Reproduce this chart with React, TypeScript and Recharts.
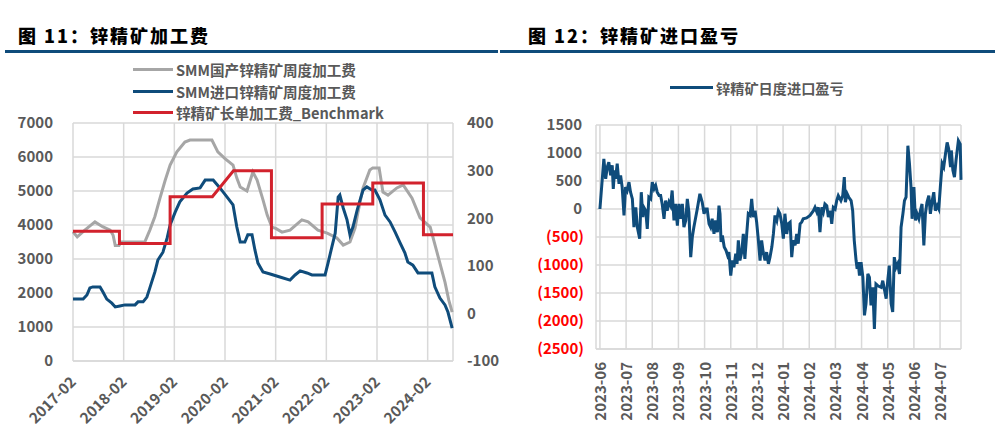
import React from "react"
import { LineChart, Line, XAxis, YAxis, CartesianGrid, Legend } from "recharts"

const FONT = '"Noto Sans CJK SC", "Noto Sans", sans-serif'
const BLUE = "#0f4c7b"
const GRAY = "#a6a6a6"
const RED = "#d2222d"
const GRID = "#d9d9d9"
const LABEL = "#595959"

// left chart: x = months since 2017-02
const feeTickLabels = ["2017-02", "2018-02", "2019-02", "2020-02", "2021-02", "2022-02", "2023-02", "2024-02"]
const feeTicks = [0, 12, 24, 36, 48, 60, 72, 84]

const domesticMonths = [
  0, 1, 2.8, 5.2, 7, 8.8, 9.5, 10, 10.9, 11.4,
  17, 18.2, 19.4, 20.6, 21.8, 23, 24.6, 26.5, 27.7, 32.9,
  34.3, 36, 37.9, 38.8, 39.6, 41.2, 42.6, 43.6, 45, 46,
  47.1, 48, 49.5, 51.4, 54.2, 55.7, 58, 60.2, 62.5, 64,
  65.6, 66.8, 67.5, 68.7, 70.3, 71, 72.5, 73.4, 74.6, 76.7,
  78.2, 80.3, 82.2, 84.6, 86.2, 88.1, 89, 89.8,
]
const domesticTc = [
  3800, 3650, 3850, 4090, 3950, 3850, 3700, 3400, 3400, 3500,
  3500, 3850, 4250, 4790, 5300, 5760, 6150, 6440, 6500, 6500,
  6150, 5950, 5760, 5380, 5120, 5000, 5560, 5320, 4740, 4290,
  3940, 3900, 3790, 3850, 4150, 4090, 3850, 3760, 3620, 3410,
  3500, 3910, 4380, 5090, 5620, 5680, 5680, 4970, 4880, 5090,
  5180, 4790, 4210, 3940, 3200, 2320, 1790, 1440,
]

const importMonths = [
  0, 2.4, 3.3, 4, 4.7, 6.4, 7.1, 8, 9.2, 10,
  11.1, 12.3, 14.7, 15.4, 16.6, 17.5, 18.2, 19.4, 20.1, 21.3,
  22.3, 23, 24.2, 25.3, 27, 28.4, 30.1, 31.3, 33.2, 34.8,
  36.5, 37.9, 38.8, 39.6, 40.7, 41.4, 42.4, 43.1, 43.8, 45,
  46.7, 49, 51.4, 52.6, 53.8, 55.4, 56.6, 59.7, 60.4, 61.3,
  62.1, 62.8, 63.2, 64, 64.9, 65.6, 66.3, 67.3, 68, 68.7,
  69.6, 70.8, 71.5, 72.7, 73.9, 75.1, 76.3, 77.5, 78.6, 79.3,
  80.5, 81.7, 82.9, 85, 85.7, 86.9, 88.1, 88.8, 89.8,
]
const importTc = [
  1820, 1820, 1940, 2150, 2180, 2180, 2030, 1820, 1700, 1590,
  1620, 1650, 1650, 1740, 1740, 1880, 2150, 2620, 2970, 3200,
  3620, 4000, 4380, 4680, 4940, 5060, 5090, 5320, 5320, 5090,
  4820, 4590, 3940, 3500, 3500, 3710, 3710, 3260, 2880, 2620,
  2560, 2470, 2380, 2530, 2650, 2590, 2530, 2530, 2880, 3350,
  3760, 4820, 4880, 4500, 4150, 3710, 3940, 4440, 4740, 5030,
  5120, 5030, 5030, 4740, 4290, 4090, 3790, 3470, 3180, 2910,
  2820, 2590, 2590, 2590, 2180, 1850, 1650, 1440, 970,
]

const benchmarkMonths = [0, 11, 11, 23, 23, 33, 38, 47, 47, 59, 59, 71, 71, 83, 83, 90]
const benchmarkTc = [172.5, 172.5, 147, 147, 245, 245, 299.75, 299.75, 159, 159, 230, 230, 274, 274, 165, 165]

// right chart: x = months since 2023-06
const profitTickLabels = [
  "2023-06", "2023-07", "2023-08", "2023-09", "2023-10", "2023-11", "2023-12",
  "2024-01", "2024-02", "2024-03", "2024-04", "2024-05", "2024-06", "2024-07",
]
const importProfit: [number, number][] = [
  [0, 0], [0.15, 896], [0.22, 540], [0.28, 750], [0.34, 835], [0.41, 600], [0.47, 780], [0.51, 360], [0.56, 690], [0.6, 540],
  [0.66, 810], [0.73, 450], [0.79, 600], [0.85, 390], [0.92, -115], [0.98, 390], [1.04, 330], [1.11, 480], [1.17, 300], [1.24, 180],
  [1.3, -325], [1.37, 30], [1.43, -325], [1.52, -530], [1.58, 300], [1.64, -145], [1.68, 30], [1.75, -30], [1.81, -355], [1.87, 210],
  [1.94, 180], [2.0, 480], [2.07, 360], [2.13, 420], [2.19, 300], [2.26, 240], [2.32, 240], [2.38, 90], [2.45, -175], [2.51, 150],
  [2.57, -30], [2.64, 120], [2.7, 60], [2.76, 330], [2.83, -205], [2.89, 90], [2.96, -295], [3.02, 90], [3.09, -175], [3.15, 90],
  [3.21, -325], [3.28, -205], [3.34, 180], [3.4, -55], [3.47, -860], [3.53, -505], [3.59, -325], [3.72, 0], [3.82, 270], [3.91, 120],
  [3.98, -85], [4.04, 0], [4.1, 0], [4.17, -265], [4.23, -325], [4.29, -175], [4.36, -445], [4.42, -205], [4.49, -415], [4.55, 60],
  [4.59, -85], [4.63, -590], [4.68, -475], [4.75, -680], [4.82, -740], [4.88, -830], [4.93, -770], [5.0, -1190], [5.06, -920], [5.12, -1040],
  [5.19, -800], [5.24, -980], [5.29, -560], [5.35, -920], [5.42, -770], [5.48, -445], [5.54, -890], [5.61, -445], [5.67, -85], [5.74, -115],
  [5.8, 180], [5.86, -145], [5.93, -30], [5.99, -235], [6.05, -530], [6.12, -920], [6.18, -560], [6.24, -770], [6.31, -920], [6.37, -770],
  [6.44, -980], [6.5, -860], [6.57, -680], [6.63, -445], [6.69, -115], [6.76, -205], [6.82, -30], [6.88, -85], [6.95, -265], [7.01, -530],
  [7.07, -85], [7.14, -445], [7.2, -265], [7.27, -235], [7.33, -860], [7.39, -560], [7.46, -650], [7.52, -445], [7.58, -620], [7.65, -265],
  [7.71, -235], [7.77, -175], [7.9, -160], [8.03, -115], [8.16, -30], [8.22, 30], [8.29, -55], [8.35, 30], [8.41, -415], [8.48, 30],
  [8.54, -55], [8.6, 90], [8.67, 60], [8.73, -145], [8.8, -30], [8.86, -265], [8.92, 30], [8.99, 0], [9.05, 150], [9.11, 240],
  [9.21, 150], [9.28, 240], [9.34, 570], [9.38, 120], [9.45, 270], [9.51, 210], [9.6, 150], [9.66, -30], [9.72, -560], [9.79, -920],
  [9.83, -1070], [9.87, -950], [9.92, -1190], [9.98, -950], [10.05, -1220], [10.11, -1900], [10.17, -1690], [10.24, -1160], [10.3, -1220], [10.36, -1720],
  [10.43, -1400], [10.49, -2140], [10.55, -1340], [10.62, -1370], [10.75, -1400], [10.81, -1280], [10.87, -1430], [10.94, -1600], [11.0, -1280], [11.06, -1010],
  [11.13, -1690], [11.19, -1840], [11.25, -860], [11.32, -1040], [11.38, -980], [11.45, -1160], [11.51, -325], [11.58, -85], [11.64, 150], [11.7, 210],
  [11.77, 1130], [11.83, 810], [11.89, 390], [11.93, -175], [12.0, 390], [12.06, -205], [12.12, -85], [12.19, -175], [12.25, -30], [12.31, 90],
  [12.38, -650], [12.44, -85], [12.5, 120], [12.57, 240], [12.63, -85], [12.7, 150], [12.76, 300], [12.82, -30], [12.89, 60], [12.95, 0],
  [13.01, 390], [13.08, 810], [13.14, 750], [13.2, 960], [13.27, 1190], [13.33, 1070], [13.4, 750], [13.43, 1045], [13.49, 690], [13.55, 570],
  [13.61, 870], [13.7, 1220], [13.77, 1160], [13.8, 520],
]

const domesticData = domesticMonths.map((m, i) => ({ m, v: domesticTc[i] }))
const importData = importMonths.map((m, i) => ({ m, v: importTc[i] }))
const benchmarkData = benchmarkMonths.map((m, i) => ({ m, v: benchmarkTc[i] }))
const profitData = importProfit.map(([m, v]) => ({ m, v }))

const tickFont = { fill: LABEL, fontSize: 15, fontWeight: "bold" as const, fontFamily: FONT }

function AngledTick({ x, y, index }: any) {
  return (
    <text transform={`translate(${x + 4},${y + 22}) rotate(-45)`} textAnchor="end" {...tickFont}>
      {feeTickLabels[index]}
    </text>
  )
}

function VerticalTick({ x, y, index }: any) {
  return (
    <text transform={`translate(${x + 6},${y + 13}) rotate(-90)`} textAnchor="end" {...tickFont}>
      {profitTickLabels[index]}
    </text>
  )
}

function ProfitYTick({ x, y, payload }: any) {
  const v = payload.value
  const neg = v < 0
  return (
    <text x={neg ? x + 2 : x} y={y} dy="0.36em" textAnchor="end" {...tickFont} fill={neg ? "#ff0000" : LABEL}>
      {neg ? `(${-v})` : v}
    </text>
  )
}

function SeriesLegend({ payload, lineWidth, fontSize }: any) {
  return (
    <div style={{ fontFamily: FONT }}>
      {payload.map((item: any) => (
        <div key={item.value} style={{ display: "flex", alignItems: "center", height: 21.5 }}>
          <span style={{ width: lineWidth, height: 3, background: item.color, marginRight: 3 }} />
          <span style={{ fontSize, fontWeight: "bold", color: LABEL, whiteSpace: "nowrap" }}>{item.value}</span>
        </div>
      ))}
    </div>
  )
}

const titleStyle: React.CSSProperties = {
  position: "absolute",
  top: 24,
  fontSize: 18,
  lineHeight: "22px",
  fontWeight: 900,
  letterSpacing: 2,
  color: "#000",
  fontFamily: FONT,
  whiteSpace: "nowrap",
}

export default function App() {
  return (
    <div style={{ position: "absolute", left: 0, top: 0, width: 999, height: 433, background: "#fff", overflow: "hidden" }}>
      <div style={{ ...titleStyle, left: 18 }}>图 11：锌精矿加工费</div>
      <div style={{ ...titleStyle, left: 528 }}>图 12：锌精矿进口盈亏</div>
      <div style={{ position: "absolute", left: 5, top: 50, width: 493, height: 3, background: BLUE }} />
      <div style={{ position: "absolute", left: 500, top: 50, width: 495, height: 3, background: BLUE }} />

      <div style={{ position: "absolute", left: 0, top: 0 }}>
        <LineChart width={500} height={433} margin={{ top: 123, right: 0, bottom: 0, left: 0 }}>
          <CartesianGrid yAxisId="left" stroke={GRID} strokeWidth={1.5} />
          <XAxis
            type="number"
            dataKey="m"
            domain={[0, 90]}
            ticks={feeTicks}
            height={72}
            tickSize={0}
            tickMargin={0}
            tickLine={false}
            axisLine={{ stroke: GRID, strokeWidth: 1.5 }}
            tick={<AngledTick />}
            interval={0}
          />
          <YAxis
            yAxisId="left"
            domain={[0, 7000]}
            ticks={[0, 1000, 2000, 3000, 4000, 5000, 6000, 7000]}
            width={73}
            axisLine={false}
            tickLine={false}
            tickSize={0}
            tickMargin={20}
            tick={tickFont}
          />
          <YAxis
            yAxisId="right"
            orientation="right"
            domain={[-100, 400]}
            ticks={[-100, 0, 100, 200, 300, 400]}
            width={47}
            axisLine={false}
            tickLine={false}
            tickSize={0}
            tickMargin={14}
            tick={{ ...tickFont, textAnchor: "start" }}
          />
          <Legend
            layout="vertical"
            align="center"
            verticalAlign="middle"
            content={<SeriesLegend lineWidth={40} fontSize={14.6} />}
            wrapperStyle={{ left: 133, top: 59, width: 340, height: "auto" }}
          />
          <Line yAxisId="left" data={domesticData} dataKey="v" name="SMM国产锌精矿周度加工费" type="linear" stroke={GRAY} strokeWidth={3} dot={false} isAnimationActive={false} />
          <Line yAxisId="left" data={importData} dataKey="v" name="SMM进口锌精矿周度加工费" type="linear" stroke={BLUE} strokeWidth={3} dot={false} isAnimationActive={false} />
          <Line yAxisId="right" data={benchmarkData} dataKey="v" name="锌精矿长单加工费_Benchmark" type="linear" stroke={RED} strokeWidth={3} dot={false} isAnimationActive={false} />
        </LineChart>
      </div>

      <div style={{ position: "absolute", left: 500, top: 0 }}>
        <LineChart width={499} height={433} margin={{ top: 125, right: 38, bottom: 0, left: 0 }}>
          <CartesianGrid stroke={GRID} strokeWidth={1.5} />
          <XAxis
            type="number"
            dataKey="m"
            domain={[-0.15, 13.8]}
            ticks={[0, 1, 2, 3, 4, 5, 6, 7, 8, 9, 10, 11, 12, 13]}
            height={84}
            tickSize={0}
            tickMargin={0}
            tickLine={false}
            axisLine={{ stroke: GRID, strokeWidth: 1.5 }}
            tick={<VerticalTick />}
            interval={0}
          />
          <YAxis
            domain={[-2500, 1500]}
            ticks={[-2500, -2000, -1500, -1000, -500, 0, 500, 1000, 1500]}
            width={96}
            axisLine={false}
            tickLine={false}
            tickSize={0}
            tickMargin={14}
            tick={<ProfitYTick />}
          />
          <Legend
            layout="vertical"
            align="center"
            verticalAlign="middle"
            content={<SeriesLegend lineWidth={43} fontSize={14.2} />}
            wrapperStyle={{ left: 170, top: 77, width: 250, height: "auto" }}
          />
          <Line data={profitData} dataKey="v" name="锌精矿日度进口盈亏" type="linear" stroke={BLUE} strokeWidth={3} dot={false} isAnimationActive={false} />
        </LineChart>
      </div>
    </div>
  )
}
